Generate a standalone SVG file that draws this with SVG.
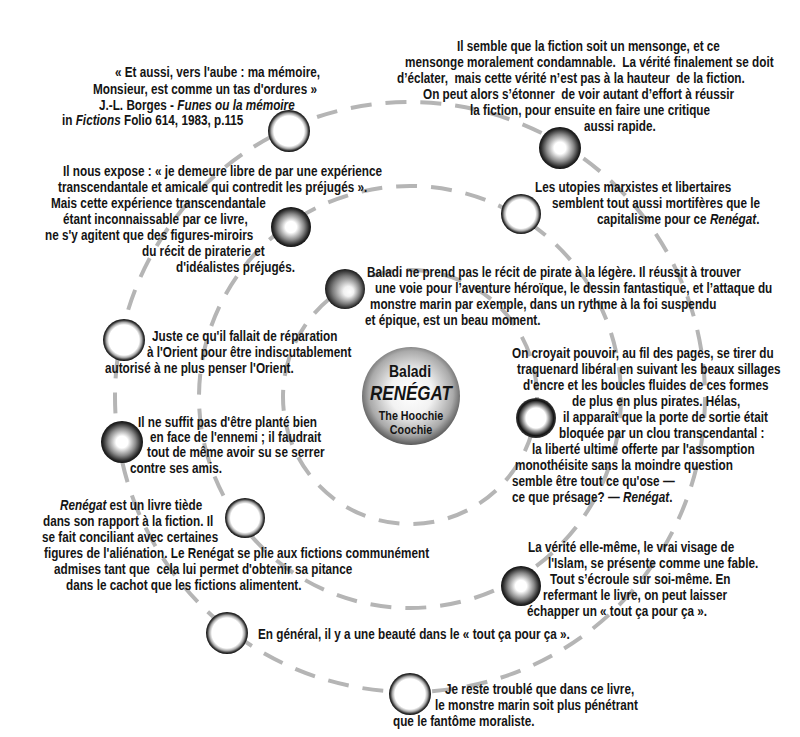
<svg xmlns="http://www.w3.org/2000/svg" width="800" height="737" viewBox="0 0 800 737">
<style>
.t{font-family:"Liberation Sans",Arial,sans-serif;font-weight:bold;font-size:14px;fill:#141414;white-space:pre}
.i{font-style:italic}
.ring{fill:none;stroke:#b5b5b5;stroke-width:4;stroke-dasharray:21 14}
.c{font-family:"Liberation Sans",Arial,sans-serif;font-weight:bold;fill:#141414;text-anchor:middle}
</style>
<defs>
<radialGradient id="gRing"><stop offset="0" stop-color="#fff"/><stop offset="0.72" stop-color="#fff"/><stop offset="0.84" stop-color="#aaa"/><stop offset="0.94" stop-color="#333"/><stop offset="1" stop-color="#111"/></radialGradient>
<radialGradient id="gSphere"><stop offset="0" stop-color="#fff"/><stop offset="0.28" stop-color="#fff"/><stop offset="0.65" stop-color="#8a8a8a"/><stop offset="0.9" stop-color="#2a2a2a"/><stop offset="1" stop-color="#111"/></radialGradient>
<radialGradient id="gSphere5" fx="0.62" fy="0.58"><stop offset="0" stop-color="#fff"/><stop offset="0.25" stop-color="#f2f2f2"/><stop offset="0.7" stop-color="#7a7a7a"/><stop offset="1" stop-color="#1a1a1a"/></radialGradient>
<radialGradient id="gThick"><stop offset="0" stop-color="#fff"/><stop offset="0.5" stop-color="#fff"/><stop offset="0.72" stop-color="#777"/><stop offset="0.88" stop-color="#151515"/><stop offset="1" stop-color="#333"/></radialGradient>
<radialGradient id="gCenter" cx="0.5" cy="0.47" r="0.55"><stop offset="0" stop-color="#fff"/><stop offset="0.4" stop-color="#f2f2f2"/><stop offset="0.78" stop-color="#aaa"/><stop offset="1" stop-color="#4a4a4a"/></radialGradient>
</defs>
<rect width="800" height="737" fill="#fff"/>
<g id="connectors">
<circle class="ring" cx="410" cy="397" r="295"/>
<circle class="ring" cx="410" cy="397" r="211"/>
<circle class="ring" cx="410" cy="397" r="127"/>
</g>
<g id="node-borges">
<circle cx="289" cy="131" r="21" fill="url(#gRing)"/>
<text class="t" transform="translate(115 77) scale(.84 1)">« Et aussi, vers l'aube : ma mémoire,</text>
<text class="t" transform="translate(93 94) scale(.84 1)">Monsieur, est comme un tas d'ordures »</text>
<text class="t" transform="translate(99 110) scale(.84 1)">J.-L. Borges - <tspan class="i">Funes ou la mémoire</tspan></text>
<text class="t" transform="translate(62 125) scale(.84 1)">in <tspan class="i">Fictions</tspan> Folio 614, 1983, p.115</text>
</g>
<g id="node-mensonge">
<circle cx="560" cy="148" r="21" fill="url(#gSphere)"/>
<text class="t" transform="translate(457 51) scale(.84 1)">Il semble que la fiction soit un mensonge, et ce</text>
<text class="t" transform="translate(405 67) scale(.84 1)">mensonge moralement condamnable.  La vérité finalement se doit</text>
<text class="t" transform="translate(397 83) scale(.84 1)">d’éclater,  mais cette vérité n’est pas à la hauteur  de la fiction.</text>
<text class="t" transform="translate(423 99) scale(.84 1)">On peut alors s’étonner  de voir autant d’effort à réussir</text>
<text class="t" transform="translate(470 115) scale(.84 1)">la fiction, pour ensuite en faire une critique</text>
<text class="t" transform="translate(584 131) scale(.84 1)">aussi rapide.</text>
</g>
<g id="node-expose">
<circle cx="291" cy="227" r="20" fill="url(#gSphere)"/>
<text class="t" transform="translate(63 176) scale(.84 1)">Il nous expose : « je demeure libre de par une expérience</text>
<text class="t" transform="translate(58 192) scale(.84 1)">transcendantale et amicale qui contredit les préjugés ».</text>
<text class="t" transform="translate(51 208) scale(.84 1)">Mais cette expérience transcendantale</text>
<text class="t" transform="translate(63 224) scale(.84 1)">étant inconnaissable par ce livre,</text>
<text class="t" transform="translate(45 240) scale(.84 1)">ne s'y agitent que des figures-miroirs</text>
<text class="t" transform="translate(142 256) scale(.84 1)">du récit de piraterie et</text>
<text class="t" transform="translate(176 272) scale(.84 1)">d'idéalistes préjugés.</text>
</g>
<g id="node-utopies">
<circle cx="521" cy="214" r="20" fill="url(#gRing)"/>
<text class="t" transform="translate(535 192) scale(.84 1)">Les utopies marxistes et libertaires</text>
<text class="t" transform="translate(552 208) scale(.84 1)">semblent tout aussi mortifères que le</text>
<text class="t" transform="translate(597 224) scale(.84 1)">capitalisme pour ce <tspan class="i">Renégat</tspan>.</text>
</g>
<g id="node-pirate">
<circle cx="345" cy="289" r="20" fill="url(#gSphere5)"/>
<text class="t" transform="translate(367 277) scale(.84 1)">Baladi ne prend pas le récit de pirate à la légère. Il réussit à trouver</text>
<text class="t" transform="translate(375 293) scale(.84 1)">une voie pour l’aventure héroïque, le dessin fantastique, et l’attaque du</text>
<text class="t" transform="translate(370 309) scale(.84 1)">monstre marin par exemple, dans un rythme à la foi suspendu</text>
<text class="t" transform="translate(365 325) scale(.84 1)">et épique, est un beau moment.</text>
</g>
<g id="node-orient">
<circle cx="124" cy="340" r="21" fill="url(#gRing)"/>
<text class="t" transform="translate(152 341) scale(.84 1)">Juste ce qu'il fallait de réparation</text>
<text class="t" transform="translate(147 357) scale(.84 1)">à l'Orient pour être indiscutablement</text>
<text class="t" transform="translate(105 373) scale(.84 1)">autorisé à ne plus penser l'Orient.</text>
</g>
<g id="node-center">
<circle cx="411" cy="396" r="49" fill="url(#gCenter)"/>
<text class="c" transform="translate(410 377) scale(.85 1)" font-size="16.5">Baladi</text>
<text class="c" transform="translate(411 400) scale(.85 1)" font-size="20" font-style="italic">RENÉGAT</text>
<text class="c" transform="translate(411 420) scale(.86 1)" font-size="12.5">The Hoochie</text>
<text class="c" transform="translate(411 434) scale(.86 1)" font-size="12.5">Coochie</text>
</g>
<g id="node-traquenard">
<circle cx="536" cy="418" r="20" fill="url(#gThick)"/>
<text class="t" transform="translate(512 358) scale(.84 1)">On croyait pouvoir, au fil des pages, se tirer du</text>
<text class="t" transform="translate(517 374) scale(.84 1)">traquenard libéral en suivant les beaux sillages</text>
<text class="t" transform="translate(523 390) scale(.84 1)">d'encre et les boucles fluides de ces formes</text>
<text class="t" transform="translate(572 406) scale(.84 1)">de plus en plus pirates. Hélas,</text>
<text class="t" transform="translate(563 422) scale(.84 1)">il apparaît que la porte de sortie était</text>
<text class="t" transform="translate(559 438) scale(.84 1)">bloquée par un clou transcendantal :</text>
<text class="t" transform="translate(532 454) scale(.84 1)">la liberté ultime offerte par l'assomption</text>
<text class="t" transform="translate(515 470) scale(.84 1)">monothéisite sans la moindre question</text>
<text class="t" transform="translate(512 486) scale(.84 1)">semble être tout ce qu'ose —</text>
<text class="t" transform="translate(512 502) scale(.84 1)">ce que présage? — <tspan class="i">Renégat</tspan>.</text>
</g>
<g id="node-ennemi">
<circle cx="122" cy="442" r="21" fill="url(#gSphere)"/>
<text class="t" transform="translate(138 427) scale(.84 1)">Il ne suffit pas d'être planté bien</text>
<text class="t" transform="translate(150 442) scale(.84 1)">en face de l'ennemi ; il faudrait</text>
<text class="t" transform="translate(147 457) scale(.84 1)">tout de même avoir su se serrer</text>
<text class="t" transform="translate(130 473) scale(.84 1)">contre ses amis.</text>
</g>
<g id="node-tiede">
<circle cx="245" cy="518" r="20" fill="url(#gRing)"/>
<text class="t" transform="translate(60 510) scale(.84 1)"><tspan class="i">Renégat</tspan> est un livre tiède</text>
<text class="t" transform="translate(43 526) scale(.84 1)">dans son rapport à la fiction. Il</text>
<text class="t" transform="translate(42 542) scale(.84 1)">se fait conciliant avec certaines</text>
<text class="t" transform="translate(44 558) scale(.84 1)">figures de l'aliénation. Le Renégat se plie aux fictions communément</text>
<text class="t" transform="translate(54 574) scale(.84 1)">admises tant que  cela lui permet d'obtenir sa pitance</text>
<text class="t" transform="translate(66 590) scale(.84 1)">dans le cachot que les fictions alimentent.</text>
</g>
<g id="node-islam">
<circle cx="521" cy="586" r="20" fill="url(#gSphere)"/>
<text class="t" transform="translate(528 552) scale(.84 1)">La vérité elle-même, le vrai visage de</text>
<text class="t" transform="translate(548 568) scale(.84 1)">l'Islam, se présente comme une fable.</text>
<text class="t" transform="translate(550 584) scale(.84 1)">Tout s’écroule sur soi-même. En</text>
<text class="t" transform="translate(543 600) scale(.84 1)">refermant le livre, on peut laisser</text>
<text class="t" transform="translate(527 616) scale(.84 1)">échapper un « tout ça pour ça ».</text>
</g>
<g id="node-beaute">
<circle cx="227" cy="633" r="21" fill="url(#gRing)"/>
<text class="t" transform="translate(258 639) scale(.84 1)">En général, il y a une beauté dans le « tout ça pour ça ».</text>
</g>
<g id="node-monstre">
<circle cx="410" cy="694" r="21" fill="url(#gRing)"/>
<text class="t" transform="translate(445 694) scale(.84 1)">Je reste troublé que dans ce livre,</text>
<text class="t" transform="translate(435 710) scale(.84 1)">le monstre marin soit plus pénétrant</text>
<text class="t" transform="translate(393 726) scale(.84 1)">que le fantôme moraliste.</text>
</g>
</svg>
